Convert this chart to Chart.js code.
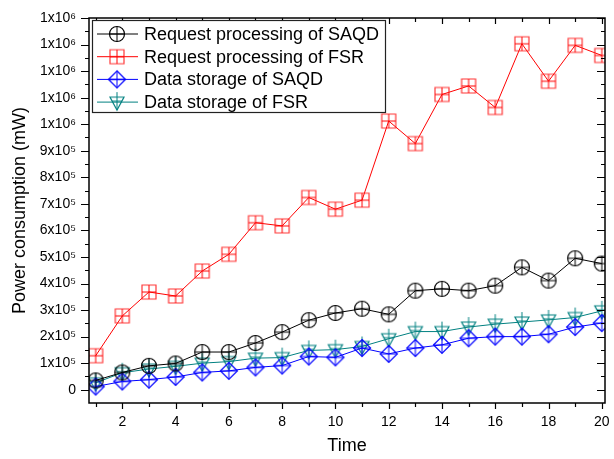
<!DOCTYPE html>
<html>
<head>
<meta charset="utf-8">
<script src="https://cdn.jsdelivr.net/npm/chart.js@4.4.1/dist/chart.umd.min.js"></script>
<style>
    html, body { margin: 0; padding: 0; background: #fff; }
    #wrap { width: 614px; height: 459px; position: relative; }
</style>
</head>
<body>
<div id="wrap"><canvas id="powerChart"></canvas></div>
<script>
// Data
const timeSteps = [1, 2, 3, 4, 5, 6, 7, 8, 9, 10, 11, 12, 13, 14, 15, 16, 17, 18, 19, 20];
const reqSAQD = [35000, 65000, 90000, 99000, 142000, 142000, 176000, 217000, 262000, 289000,
                 305000, 284000, 373000, 380000, 373000, 392000, 461000, 411000, 495000, 475000];
const reqFSR = [128000, 278000, 368000, 353000, 447000, 510000, 629000, 617000, 724000, 680000,
                714000, 1012000, 927000, 1112000, 1144000, 1063000, 1303000, 1162000, 1297000, 1259000];
const storeSAQD = [12000, 31000, 38000, 48000, 65000, 71000, 84000, 91000, 125000, 122000,
                   157000, 135000, 157000, 169000, 194000, 200000, 200000, 209000, 236000, 251000];
const storeFSR = [26000, 64000, 78000, 88000, 100000, 106000, 119000, 121000, 148000, 151000,
                  163000, 192000, 219000, 219000, 236000, 247000, 255000, 263000, 272000, 297000];

const seriesNames = ['Request processing of SAQD', 'Request processing of FSR',
                     'Data storage of SAQD', 'Data storage of FSR'];

const xTickValues = [2, 4, 6, 8, 10, 12, 14, 16, 18, 20];
const xMinorValues = [1, 3, 5, 7, 9, 11, 13, 15, 17, 19];
const yTickValues = [0, 100000, 200000, 300000, 400000, 500000, 600000, 700000,
                     800000, 900000, 1000000, 1100000, 1200000, 1300000, 1400000];
const yTickLabels = ['0', '1x10\u2075', '2x10\u2075', '3x10\u2075', '4x10\u2075', '5x10\u2075',
                     '6x10\u2075', '7x10\u2075', '8x10\u2075', '9x10\u2075', '1x10\u2076',
                     '1x10\u2076', '1x10\u2076', '1x10\u2076', '1x10\u2076'];

const FONT = '"Liberation Sans", Arial, sans-serif';

// Origin style markers (shape + cross)
function makeMarker(kind, stroke, outline) {
    const c = document.createElement('canvas');
    c.width = 22; c.height = 22;
    const g = c.getContext('2d');
    const m = 11;
    g.lineWidth = 1.2;
    g.strokeStyle = outline || stroke;
    g.beginPath();
    if (kind === 'circle') {
        g.arc(m, m, 7.5, 0, Math.PI * 2);
    } else if (kind === 'square') {
        g.rect(m - 7, m - 7, 14, 14);
    } else if (kind === 'diamond') {
        g.moveTo(m, m - 8.5); g.lineTo(m + 8.5, m); g.lineTo(m, m + 8.5); g.lineTo(m - 8.5, m); g.closePath();
    } else {
        g.moveTo(m - 7, m - 5); g.lineTo(m + 7, m - 5); g.lineTo(m, m + 8); g.closePath();
    }
    g.stroke();
    g.strokeStyle = stroke;
    g.lineWidth = 1;
    g.beginPath();
    if (kind === 'triangle') {
        g.moveTo(m, m - 10); g.lineTo(m, m + 8);
        g.moveTo(m - 5, m - 1); g.lineTo(m + 5, m - 1);
    } else {
        const r = kind === 'circle' ? 7.5 : (kind === 'square' ? 7 : 8.5);
        g.moveTo(m, m - r); g.lineTo(m, m + r);
        g.moveTo(m - r, m); g.lineTo(m + r, m);
    }
    g.stroke();
    return c;
}

const colors = ['#000000', '#ff0000', '#0000ff', '#008080'];
const markers = [
    makeMarker('circle', '#000000'),
    makeMarker('square', '#ff0000', 'rgba(255,20,20,0.85)'),
    makeMarker('diamond', '#0000ff'),
    makeMarker('triangle', '#008080')
];
const seriesData = [reqSAQD, reqFSR, storeSAQD, storeFSR];

function toPoints(values) {
    return timeSteps.map((t, i) => ({ x: t, y: values[i] }));
}

// Box frame with ticks on all four sides
const framePlugin = {
    id: 'frame',
    afterDatasetsDraw(chart) {
        const { ctx, chartArea: a, scales: { x, y } } = chart;
        ctx.save();
        ctx.strokeStyle = '#000';
        ctx.lineWidth = 1.5;
        ctx.strokeRect(a.left, a.top, a.right - a.left, a.bottom - a.top);
        ctx.lineWidth = 1.2;
        ctx.beginPath();
        const tickY = (v, len) => {
            const p = Math.round(y.getPixelForValue(v)) + 0.5;
            ctx.moveTo(a.left - len, p); ctx.lineTo(a.left, p);
            ctx.moveTo(a.right, p); ctx.lineTo(a.right - len, p);
        };
        const tickX = (v, len) => {
            const p = Math.round(x.getPixelForValue(v)) + 0.5;
            ctx.moveTo(p, a.bottom); ctx.lineTo(p, a.bottom + len);
            ctx.moveTo(p, a.top); ctx.lineTo(p, a.top + len);
        };
        yTickValues.forEach(v => tickY(v, 8));
        yTickValues.forEach(v => { if (v + 50000 < 1400000) tickY(v + 50000, 4); });
        xTickValues.forEach(v => tickX(v, 6));
        xMinorValues.forEach(v => tickX(v, 4));
        ctx.stroke();
        ctx.restore();
    }
};

// Legend box inside the plot, top left
const legendPlugin = {
    id: 'boxLegend',
    afterDraw(chart) {
        const { ctx, chartArea: a } = chart;
        const left = a.left + 3, top = a.top + 2, w = 293, h = 92, rowH = 22.7;
        ctx.save();
        ctx.fillStyle = '#fff';
        ctx.fillRect(left, top, w, h);
        ctx.strokeStyle = '#222';
        ctx.lineWidth = 1.2;
        ctx.strokeRect(left + 0.5, top + 0.5, w, h);
        ctx.font = '18px ' + FONT;
        ctx.textBaseline = 'middle';
        seriesNames.forEach((name, i) => {
            const cy = top + 14 + i * rowH;
            ctx.strokeStyle = colors[i];
            ctx.lineWidth = 1;
            ctx.beginPath();
            ctx.moveTo(left + 5, cy); ctx.lineTo(left + 46, cy);
            ctx.stroke();
            ctx.drawImage(markers[i], left + 25 - 11, cy - 11);
            ctx.fillStyle = '#000';
            ctx.fillText(name, left + 52, cy + 1);
        });
        ctx.restore();
    }
};

const ctx = document.getElementById('powerChart').getContext('2d');
new Chart(ctx, {
    type: 'line',
    data: {
        datasets: seriesData.map((vals, i) => ({
            label: seriesNames[i],
            data: toPoints(vals),
            borderColor: colors[i],
            borderWidth: 1,
            pointStyle: markers[i],
            pointRadius: 8,
            pointHoverRadius: 8,
            tension: 0,
            fill: false
        }))
    },
    options: {
        responsive: true,
        maintainAspectRatio: false,
        animation: false,
        events: [],
        layout: { padding: { top: 18, right: 5, bottom: 0, left: 0 } },
        plugins: {
            legend: { display: false },
            tooltip: { enabled: false }
        },
        scales: {
            x: {
                type: 'linear',
                min: 0.75,
                max: 20.12,
                afterBuildTicks: s => { s.ticks = xTickValues.map(v => ({ value: v })); },
                afterFit: s => { s.height = 56; s.paddingRight = 0; s.paddingLeft = 0; },
                grid: { drawOnChartArea: false, color: 'rgba(0,0,0,0)', tickLength: 8 },
                border: { display: false },
                ticks: {
                    color: '#000',
                    padding: 3,
                    maxRotation: 0,
                    font: { family: FONT, size: 14 }
                },
                title: {
                    display: true,
                    text: 'Time',
                    color: '#000',
                    padding: { top: 0, bottom: 2 },
                    font: { family: FONT, size: 18 }
                }
            },
            y: {
                min: -50000,
                max: 1400000,
                afterBuildTicks: s => { s.ticks = yTickValues.map(v => ({ value: v })); },
                afterFit: s => { s.width = 89; },
                grid: { drawOnChartArea: false, color: 'rgba(0,0,0,0)', tickLength: 9 },
                border: { display: false },
                ticks: {
                    color: '#000',
                    padding: 4,
                    font: { family: FONT, size: 14 },
                    callback: (v, i) => yTickLabels[i]
                },
                title: {
                    display: true,
                    text: 'Power consumption (mW)',
                    color: '#000',
                    padding: { top: 9, bottom: 0 },
                    font: { family: FONT, size: 18 }
                }
            }
        }
    },
    plugins: [framePlugin, legendPlugin]
});
</script>
</body>
</html>
